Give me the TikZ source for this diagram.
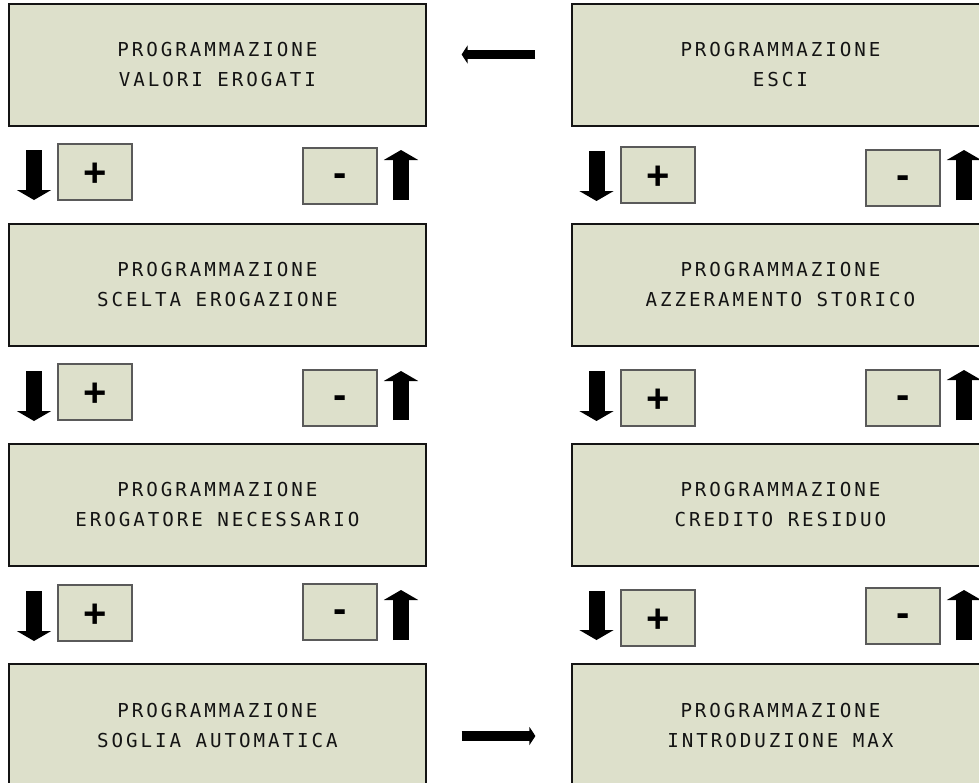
\documentclass[tikz,border=0pt]{standalone}
\usepackage{fontspec}
\usetikzlibrary{arrows.meta,calc}
\newfontfamily\lcdfamily{DejaVu Sans Mono}[LetterSpace=15.3]
\newfontfamily\keyfamily{Liberation Sans}
\definecolor{lcdfill}{RGB}{221,224,203}
\definecolor{lcdink}{RGB}{20,20,20}
\definecolor{keyedge}{RGB}{90,90,90}
\tikzset{
  lcdbox/.style={draw=lcdink, line width=1.2pt, fill=lcdfill,
    minimum width=417pt, minimum height=122pt, inner sep=0pt,
    align=center, text=lcdink,
    font={\lcdfamily\fontsize{19.2pt}{30pt}\selectfont}},
  keybox/.style={draw=keyedge, line width=1.2pt, fill=lcdfill,
    minimum width=74pt, minimum height=56pt, inner sep=0pt,
    font={\keyfamily\bfseries\fontsize{40pt}{40pt}\selectfont}},
  pluskey/.style={keybox, text height=28.6pt, text depth=0pt},
  minuskey/.style={keybox, text height=20.7pt, text depth=0pt},
  navarrow/.style={line width=16pt, -{Triangle[length=10pt,width=34pt]}},
  flowarrow/.style={line width=9.5pt, -{Triangle[length=6pt,width=18pt]}}
}
\begin{document}
\begin{tikzpicture}[x=1pt,y=-1pt]
\useasboundingbox (0,0) rectangle (979,782);
\clip (0,0) rectangle (979,782);

% display screens, left column
\node[lcdbox] (b1) at (217.5,65)  {PROGRAMMAZIONE\\VALORI EROGATI};
\node[lcdbox] (b2) at (217.5,285) {PROGRAMMAZIONE\\SCELTA EROGAZIONE};
\node[lcdbox] (b3) at (217.5,505) {PROGRAMMAZIONE\\EROGATORE NECESSARIO};
\node[lcdbox] (b4) at (217.5,725) {PROGRAMMAZIONE\\SOGLIA AUTOMATICA};

% display screens, right column
\node[lcdbox] (r1) at (780.5,65)  {PROGRAMMAZIONE\\ESCI};
\node[lcdbox] (r2) at (780.5,285) {PROGRAMMAZIONE\\AZZERAMENTO STORICO};
\node[lcdbox] (r3) at (780.5,505) {PROGRAMMAZIONE\\CREDITO RESIDUO};
\node[lcdbox] (r4) at (780.5,725) {PROGRAMMAZIONE\\INTRODUZIONE MAX};

% keys, left column
\node[pluskey]  (lp1) at (95,172)  {+};
\node[minuskey] (lm1) at (340,176) {-};
\node[pluskey]  (lp2) at (95,392)  {+};
\node[minuskey] (lm2) at (340,398) {-};
\node[pluskey]  (lp3) at (95,613)  {+};
\node[minuskey] (lm3) at (340,612) {-};

% keys, right column
\node[pluskey]  (rp1) at (658,175) {+};
\node[minuskey] (rm1) at (903,178) {-};
\node[pluskey]  (rp2) at (658,398) {+};
\node[minuskey] (rm2) at (903,398) {-};
\node[pluskey]  (rp3) at (658,618) {+};
\node[minuskey] (rm3) at (903,616) {-};

% scroll direction arrows beside the keys
\coordinate (ld1s) at (34,150);  \coordinate (ld1e) at (34,200);
\coordinate (ld2s) at (34,371);  \coordinate (ld2e) at (34,421);
\coordinate (ld3s) at (34,591);  \coordinate (ld3e) at (34,641);
\coordinate (lu1s) at (401,200); \coordinate (lu1e) at (401,150);
\coordinate (lu2s) at (401,420); \coordinate (lu2e) at (401,371);
\coordinate (lu3s) at (401,640); \coordinate (lu3e) at (401,590);
\coordinate (rd1s) at (596.5,151); \coordinate (rd1e) at (596.5,201);
\coordinate (rd2s) at (596.5,371); \coordinate (rd2e) at (596.5,421);
\coordinate (rd3s) at (596.5,591); \coordinate (rd3e) at (596.5,640);
\coordinate (ru1s) at (964,200); \coordinate (ru1e) at (964,150);
\coordinate (ru2s) at (964,420); \coordinate (ru2e) at (964,370);
\coordinate (ru3s) at (964,640); \coordinate (ru3e) at (964,590);
\foreach \a in {ld1,ld2,ld3,lu1,lu2,lu3,rd1,rd2,rd3,ru1,ru2,ru3}
  \draw[navarrow] (\a s) -- (\a e);

% transitions between the two columns
\draw[flowarrow] ($(r1.west)+(-36,-10.5)$) -- ($(b1.east)+(35,-10.5)$);
\draw[flowarrow] ($(b4.east)+(35,11)$) -- ($(r4.west)+(-36,11)$);
\end{tikzpicture}
\end{document}
